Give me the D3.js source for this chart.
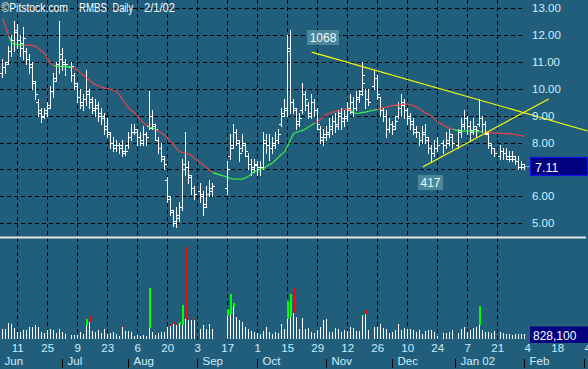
<!DOCTYPE html>
<html><head><meta charset="utf-8">
<script src="https://cdn.jsdelivr.net/npm/d3@7"></script>
<style>html,body{margin:0;padding:0;background:#215e7c;overflow:hidden}svg{display:block}</style>
</head><body><svg id="c" width="588" height="369"></svg>
<script>
// ---- DATA (weekdays from 2001-06-04; null = market closed) ----
const startDate = "2001-06-04";
const open = [
 10.6,10.8,11.0,11.4,11.8, 12.1,11.8,11.5,11.4,11.1, 10.8,10.2,9.5,9.1,9.0, 9.2,9.4,9.9,10.4,10.9,
 11.3,10.9,null,10.8,10.5, 10.1,9.7,9.4,9.6,9.9, 9.6,9.2,9.3,9.1,8.9, 8.6,8.3,8.0,7.8,7.9,
 7.9,7.6,7.9,8.2,8.4, 8.4,8.2,8.0,8.3,8.6, 9.0,8.6,8.1,7.8,7.4, 6.6,5.9,5.4,5.0,5.2,
 5.6,7.2,7.1,6.7,6.3, null,6.2,6.0,5.7,6.1, 6.2,null,null,null,null, 6.3,7.5,7.9,8.4,8.0,
 7.8,7.9,7.5,7.2,7.0, 7.2,7.0,7.1,8.1,7.9, 7.8,7.9,8.1,8.7,9.1, 9.2,11.5,9.5,9.2,8.7,
 9.2,9.8,9.4,9.0,9.5, 9.2,8.5,8.1,8.2,8.3, 8.5,8.8,8.6,9.1,8.8, 8.9,9.3,9.5,9.3,9.6,
 9.9,10.2,9.6,null,10.1, 10.4,9.7,9.2,9.0,8.5, 8.7,8.6,9.0,9.3,9.5, 9.2,9.0,8.8,8.4,8.4,
 8.1,8.4,8.1,7.8,7.6, 7.8,null,8.0,7.9,8.0, 8.2,null,7.9,8.4,8.6, 8.9,8.6,8.4,8.5,8.7,
 8.9,8.7,8.3,7.9,7.8, null,7.5,7.7,7.6,7.4, 7.4,7.4,7.3,7.1,7.1];
const high = [
 11.1,11.0,11.6,12.0,12.5, 12.4,12.0,12.3,11.5,11.3, 11.0,10.3,9.6,9.3,9.3, 9.5,10.1,10.6,11.0,12.5,
 11.5,11.1,null,11.0,10.6, 10.2,10.0,9.8,10.7,10.0, 9.7,9.6,9.5,9.3,9.1, 8.9,8.4,8.2,8.1,8.0,
 8.1,7.9,8.4,8.7,8.7, 8.5,8.4,8.6,8.4,9.9, 9.2,8.7,8.2,8.0,7.5, 6.7,6.0,5.5,5.6,5.8,
 7.4,8.4,7.3,6.8,6.4, null,6.5,6.2,6.4,6.6, 6.5,null,null,null,null, 7.3,8.3,8.7,8.5,8.1,
 8.3,8.0,7.6,7.4,7.4, 7.3,7.3,8.4,8.3,8.3, 8.2,8.4,8.5,9.3,9.6, 12.0,12.2,9.6,9.3,9.1,
 10.2,9.9,9.5,9.8,9.6, 9.3,8.6,8.5,8.6,8.9, 9.0,9.1,9.2,9.3,9.2, 9.5,9.8,9.7,9.9,9.95,
 11.0,10.0,10.0,null,10.7, 10.5,9.7,9.3,9.2,8.9, 8.8,9.0,9.5,9.8,9.6, 9.3,9.1,8.9,8.6,8.4,
 8.6,8.7,8.2,7.9,8.1, 8.2,null,8.1,8.4,8.5, 8.3,null,8.5,8.9,9.2, 9.0,8.8,8.9,8.6,9.6,
 9.0,8.8,8.4,8.0,7.8, null,7.9,7.8,7.8,7.7, 7.7,7.5,7.5,7.3,7.2];
const low = [
 10.45,10.6,10.9,11.2,11.4, 11.5,11.2,11.1,10.9,10.6, 10.0,9.6,9.0,8.75,8.9, 9.0,9.3,9.7,10.3,10.6,
 10.7,10.5,null,10.3,10.0, 9.5,9.3,9.2,9.4,9.3, 9.1,9.0,8.8,8.7,8.3, 8.2,7.8,7.7,7.7,7.6,
 7.5,7.55,7.8,8.1,8.3, 7.9,7.9,7.9,7.9,8.5, 8.5,8.1,7.6,7.3,7.0, 5.8,5.3,4.9,4.85,5.1,
 5.5,6.8,6.5,6.1,5.9, null,5.8,5.3,5.6,6.0, 6.0,null,null,null,null, 6.1,7.4,7.8,7.9,7.3,
 7.7,7.5,7.0,6.8,6.9, 6.8,6.8,7.0,7.6,7.35, 7.6,7.8,8.0,8.6,9.0, 9.0,9.1,9.1,8.5,8.6,
 9.1,9.2,8.9,8.9,9.0, 8.5,8.0,7.9,8.1,8.2, 8.3,8.4,8.5,8.5,8.6, 8.8,9.1,9.0,9.2,9.5,
 9.75,9.3,9.4,null,10.0, 9.6,9.0,8.8,8.2,8.4, 8.3,8.5,8.9,9.0,8.9, 8.7,8.5,8.3,8.2,7.9,
 8.0,8.0,7.6,7.3,7.5, 7.7,null,7.6,7.8,7.9, 7.8,null,7.8,8.2,8.5, 8.3,8.1,8.3,8.2,8.6,
 8.4,8.3,7.8,7.6,7.5, null,7.4,7.4,7.4,7.3, 7.3,7.2,7.0,7.0,7.0];
const close = [
 10.8,10.9,11.4,11.8,12.2, 11.8,11.7,11.9,11.1,10.9, 10.3,9.8,9.2,8.95,9.1, 9.3,9.9,10.3,10.9,11.1,
 11.0,10.9,null,10.85,10.2, 9.7,9.5,9.6,9.8,9.5, 9.3,9.4,9.0,9.0,8.5, 8.4,8.0,7.9,7.9,7.8,
 7.7,7.7,8.2,8.4,8.5, 8.2,8.1,8.3,8.2,8.55, 8.7,8.5,7.8,7.5,7.2, 6.0,5.5,5.1,5.3,5.6,
 7.0,7.1,6.8,6.3,6.1, null,6.1,5.6,6.1,6.3, 6.4,null,null,null,null, 7.0,7.8,8.4,8.1,7.6,
 8.0,7.7,7.2,7.1,7.15, 7.1,7.1,8.0,7.9,7.8, 8.0,8.1,8.3,9.0,9.3, 11.4,9.5,9.3,8.8,8.9,
 9.8,9.6,9.1,9.5,9.2, 8.7,8.2,8.3,8.4,8.6, 8.8,8.7,9.0,8.9,9.0, 9.2,9.15,9.3,9.7,9.8,
 10.5,9.6,9.5,null,10.4, 9.8,9.2,9.0,8.5,8.7, 8.5,8.8,9.3,9.4,9.2, 8.9,8.7,8.5,8.4,8.1,
 8.3,8.2,7.8,7.6,7.8, 7.9,null,7.9,8.1,8.3, 8.0,null,8.45,8.7,8.9, 8.6,8.45,8.6,8.45,8.9,
 8.7,8.35,8.0,7.8,7.6, null,7.7,7.6,7.5,7.5, 7.5,7.3,7.1,7.2,7.11];
const movingAvg = [
 12.6,12.3,11.95,11.7,11.65, 11.64,11.63,11.62,11.62,11.61, 11.60,11.58,11.48,11.40,11.30, 11.10,10.94,10.86,10.84,10.83,
 10.83,10.82,null,10.81,10.75, 10.66,10.57,10.50,10.40,10.30, 10.21,10.15,10.11,10.05,10.02, 10.00,9.98,9.94,9.89,9.75,
 9.59,9.45,9.28,9.19,9.10, 8.98,8.82,8.72,8.65,8.58, 8.54,8.48,8.41,8.35,8.25, 8.15,8.03,7.90,7.77,7.66,
 7.63,7.61,7.58,7.50,7.40, null,7.24,7.15,7.06,6.97, 6.88,null,null,null,null, 6.71,6.66,6.64,6.64,6.64,
 6.64,6.69,6.75,6.84,6.93, 6.97,7.00,7.03,7.12,7.18, 7.25,7.35,7.47,7.57,7.66, 7.87,8.12,8.33,8.38,8.42,
 8.45,8.51,8.58,8.65,8.72, 8.77,8.87,8.97,9.05,9.09, 9.13,9.16,9.18,9.21,9.24, 9.24,9.20,9.12,9.07,9.10,
 9.12,9.13,9.16,null,9.21, 9.24,9.26,9.29,9.32,9.35, 9.37,9.39,9.40,9.41,9.42, 9.43,9.40,9.35,9.31,9.24,
 9.16,9.10,9.04,8.97,8.88, 8.76,null,8.64,8.57,8.53, 8.49,null,8.43,8.42,8.42, 8.42,8.42,8.41,8.40,8.40,
 8.39,8.38,8.37,8.36,8.35, null,8.34,8.33,8.33,8.32, 8.31,8.29,8.27,8.25,8.24];
// volume, thousands of shares
const volume = [
 1650,1650,2640,2475,1815, 1155,1155,1485,1485,1980, 1980,2310,1980,1155,990, 1485,1650,1485,990,1650,
 1155,825,null,660,660, 660,1155,825,3300,3795, 1320,1155,1485,990,1650, 825,990,1155,825,495,
 2145,1320,1320,1155,495, 660,495,660,495,8415, 1155,660,990,1155,1155, 1980,2310,2805,2475,2805,
 5610,15180,3300,3300,3135, null,1650,2310,1650,2475, 1650,null,null,null,null, 4950,7425,5940,3630,3135,
 2805,1980,1650,1320,1155, 990,825,1320,1980,1155, 825,1155,990,2475,1650, 6270,7425,8415,3630,1650,
 3465,1650,1815,1155,990, 1485,1980,3135,3300,1155, 1155,1815,1650,1155,1485, 1320,1980,1815,1320,1320,
 3960,4785,1485,null,1980, 1980,2475,1815,1650,990, 1155,1485,2475,1485,1815, 1650,1650,1485,1155,1485,
 825,1320,1485,1485,1155, 495,null,990,990,1155, 1485,null,990,1650,1980, 1155,1485,1815,1980,5445,
 1485,1155,1155,990,1320, null,1155,990,825,825, 660,825,825,825,828.1];
// high-volume days: weekday index, normal part (thousands), colour of the excess
const surgeIdx   = [28,29,40,49,56,57,58,59,60,61,62,63,75,76,77,95,96,97,120,121,159];
const surgeBase  = [2145,2805,1980,1815,2145,2475,2310,2475,2310,3300,3135,3135,3795,4125,5280,3300,3630,4290,3795,4125,2310];
const surgeColor = ["g","r","r","g","r","r","r","g","g","r","r","r","g","g","g","g","g","r","g","r","g"];
const priceTicks = [5,6,7,8,9,10,11,12,13];
const dateTicks = ["2001-06-11","2001-06-25","2001-07-09","2001-07-23","2001-08-06","2001-08-20","2001-09-03","2001-09-17",
 "2001-10-01","2001-10-15","2001-10-29","2001-11-12","2001-11-26","2001-12-10","2001-12-24","2002-01-07","2002-01-21",
 "2002-02-04","2002-02-18","2002-03-04"];
const monthNames  = ["Jun","Jul","Aug","Sep","Oct","Nov","Dec","Jan 02","Feb",""];
const monthStarts = ["2001-06-01","2001-07-01","2001-08-01","2001-09-01","2001-10-01","2001-11-01","2001-12-01","2002-01-01","2002-02-01","2002-03-01"];
const trendDates  = [["2001-10-25","2002-03-04"],["2001-12-17","2002-02-13"]];
const trendPrices = [[11.36,8.43],[7.09,9.62]];
const noteTexts = ["1068","417"];
const noteDates = ["2001-10-23","2001-12-13"];
const notePrices = [12.2,6.8];
const title = ["©Pitstock.com","RMBS","Daily","2/1/02"];

// ---- helpers ----
const parse = d3.utcParse("%Y-%m-%d");
const d0 = parse(startDate);
function wd(s){ const n = d3.utcDay.count(d0, parse(s)); const w = Math.floor(n/7); return w*5 + Math.min(n - 7*w, 5); }

const svg = d3.select("#c");
const W = 588, H = 369;
const x = d3.scaleLinear().domain([0,195]).range([2.7,587.7]);
const y = d3.scaleLinear().domain([5,13]).range([223.2,8]);
const vy = d3.scaleLinear().domain([0,16500]).range([339,239]);
const px = i => Math.floor(x(i));
const LBL = "#cdeefc", FONT = "'Liberation Sans', Arial, sans-serif";
const last = close.length - 1;
const lc = close[last];

svg.append("rect").attr("width",W).attr("height",H).attr("fill","#215e7c");

// grid
const g = svg.append("g").attr("stroke","#000").attr("stroke-width",1).attr("stroke-dasharray","4,3").attr("shape-rendering","crispEdges");
priceTicks.forEach(p=>{ const yy = Math.round(y(p))+0.5; g.append("line").attr("x1",0).attr("x2",525).attr("y1",yy).attr("y2",yy); });
dateTicks.forEach(s=>{ const i = wd(s); if(i<=last){ const xx = px(i)+0.5; g.append("line").attr("x1",xx).attr("x2",xx).attr("y1",0).attr("y2",340); }});

// price bars
const bars = svg.append("g").attr("fill","#fff").attr("shape-rendering","crispEdges");
high.forEach((h,i)=>{
  if(h==null) return;
  const xx = px(i), yt = Math.round(y(h)), yb = Math.round(y(low[i]));
  bars.append("rect").attr("x",xx).attr("y",yt).attr("width",1).attr("height",Math.max(1,yb-yt+1));
  bars.append("rect").attr("x",xx-2).attr("y",Math.round(y(open[i]))).attr("width",2).attr("height",1);
  bars.append("rect").attr("x",xx+1).attr("y",Math.round(y(close[i]))).attr("width",2).attr("height",1);
});

// moving average, coloured by close vs average
const idx = d3.range(movingAvg.length).filter(i=>movingAvg[i]!=null);
for(let k=1;k<idx.length;k++){
  const a = idx[k-1], b = idx[k];
  svg.append("line").attr("x1",x(a)).attr("y1",y(movingAvg[a])).attr("x2",x(b)).attr("y2",y(movingAvg[b]))
    .attr("stroke", close[b] > movingAvg[b] ? "#3cff3c" : "#ff4040").attr("stroke-width",1.1);
}

// trend lines
trendDates.forEach((td,k)=>{
  svg.append("line").attr("x1",x(wd(td[0]))).attr("y1",y(trendPrices[k][0]))
    .attr("x2",x(wd(td[1]))).attr("y2",y(trendPrices[k][1])).attr("stroke","#ffff00").attr("stroke-width",1.1);
});

// volume
const vg = svg.append("g").attr("shape-rendering","crispEdges");
volume.forEach((v,i)=>{
  if(v==null) return;
  const xx = px(i), s = surgeIdx.indexOf(i);
  const base = s>=0 ? surgeBase[s] : v;
  const yb = Math.round(vy(base));
  vg.append("rect").attr("x",xx).attr("y",yb).attr("width",1).attr("height",339-yb).attr("fill","#fff");
  if(s>=0){
    const yt = Math.round(vy(v));
    vg.append("rect").attr("x",xx).attr("y",yt).attr("width",2).attr("height",yb-yt)
      .attr("fill", surgeColor[s]==="g" ? "#00ff00" : "#ff0000");
  }
});

// separator
svg.append("rect").attr("x",0).attr("y",236.5).attr("width",586).attr("height",2).attr("fill","#e6e6e6");

// price labels (the one hidden under the last-price box is skipped)
priceTicks.forEach(p=>{
  if(Math.abs(y(p)-y(lc)) < 12) return;
  svg.append("text").attr("x",532).attr("y",y(p)+4).attr("fill",LBL).attr("font-family",FONT).attr("font-size",11.5).text(p.toFixed(2));
});

// last price box
svg.append("line").attr("x1",525).attr("x2",530).attr("y1",Math.round(y(lc))+0.5).attr("y2",Math.round(y(lc))+0.5).attr("stroke","#40c8c8");
svg.append("rect").attr("x",530.5).attr("y",157.5).attr("width",57).attr("height",18).attr("fill","#000080").attr("stroke","#1010f0").attr("stroke-width",1.2);
svg.append("text").attr("x",535).attr("y",171.5).attr("fill","#fff").attr("font-family",FONT).attr("font-size",12.5).text(lc.toFixed(2));

// last volume box
svg.append("rect").attr("x",530).attr("y",326.5).attr("width",58).attr("height",16.5).attr("fill","#000080");
svg.append("text").attr("x",533).attr("y",339.5).attr("fill","#fff").attr("font-family",FONT).attr("font-size",12)
  .text(d3.format(",")(Math.round(volume[last]*1000)));

// notes
noteTexts.forEach((t,k)=>{
  const bx = Math.round(x(wd(noteDates[k]))) + 1, by = Math.round(y(notePrices[k]));
  const w = t.length*7 + 4;
  svg.append("rect").attr("x",bx).attr("y",by).attr("width",w).attr("height",15).attr("fill","#4a8799");
  svg.append("text").attr("x",bx+w/2).attr("y",by+12).attr("text-anchor","middle").attr("fill","#f0f8ff")
    .attr("font-family",FONT).attr("font-size",12).text(t);
});

// date labels
const fmtDay = d3.utcFormat("%-d");
dateTicks.forEach(s=>{
  svg.append("text").attr("x",x(wd(s))).attr("y",352).attr("text-anchor","middle").attr("fill",LBL)
    .attr("font-family",FONT).attr("font-size",11.5).text(fmtDay(parse(s)));
});
monthStarts.forEach((s,k)=>{
  const i = wd(s), xx = px(i)+0.5;
  svg.append("line").attr("x1",xx).attr("x2",xx).attr("y1",359).attr("y2",368).attr("stroke","#000").attr("shape-rendering","crispEdges");
  if(monthNames[k]) svg.append("text").attr("x",xx+5).attr("y",365).attr("fill",LBL).attr("font-family",FONT).attr("font-size",11.5).text(monthNames[k]);
});

// title
const tx = [1.5,79,112.5,144], tw = [66.5,28,20.5,31];
title.forEach((t,k)=>{
  svg.append("text").attr("x",tx[k]).attr("y",12).attr("fill","#fff").attr("font-family",FONT).attr("font-size",12.5)
    .attr("textLength",tw[k]).attr("lengthAdjust","spacingAndGlyphs").text(t);
});
</script></body></html>
